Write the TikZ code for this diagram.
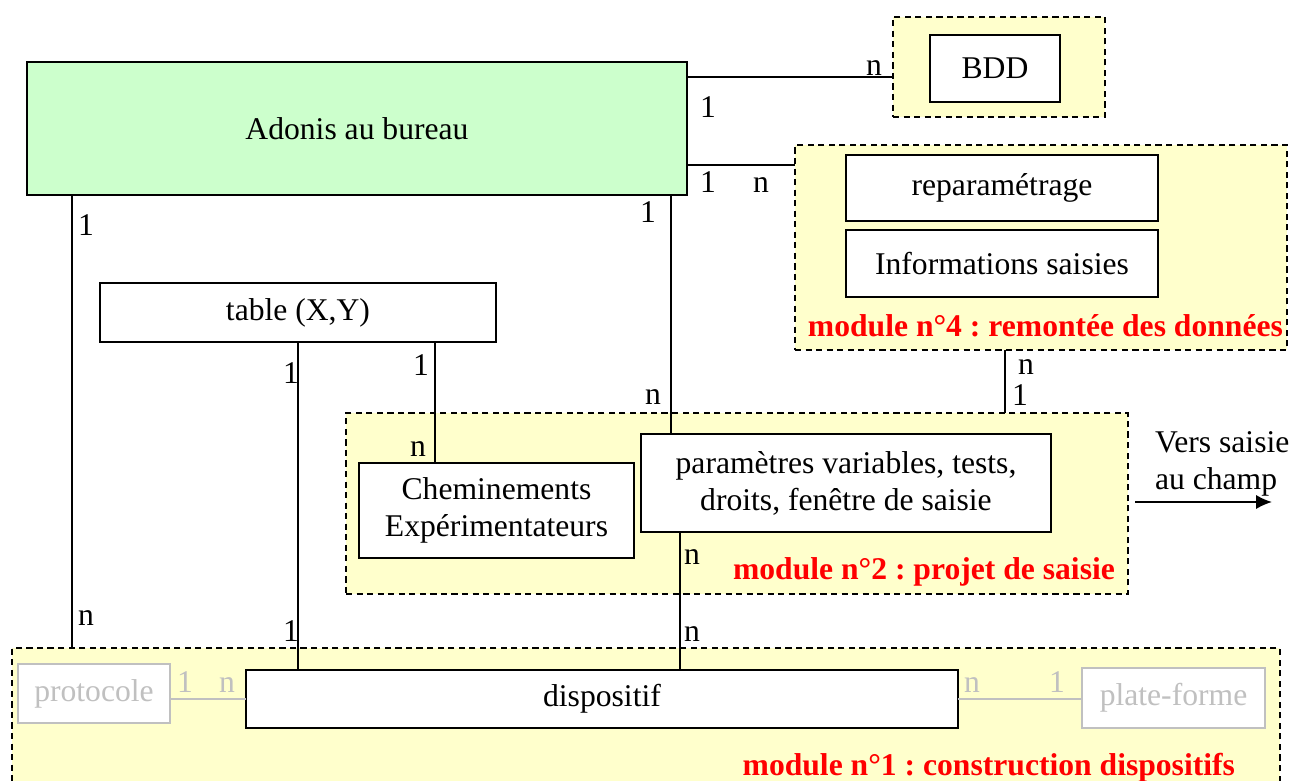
\documentclass[tikz,border=0pt]{standalone}
\usepackage{fontspec}
\setmainfont{Liberation Serif}
\usepackage{xcolor}
\definecolor{adonisgreen}{RGB}{204,255,204}
\definecolor{modyellow}{RGB}{255,255,204}
\definecolor{modred}{RGB}{255,0,0}
\definecolor{greyout}{RGB}{192,192,192}
\usetikzlibrary{arrows.meta,positioning}
\frenchspacing

\begin{document}
\begin{tikzpicture}[x=0.02cm, y=-0.02cm, line width=1pt,
  every node/.style={font=\fontsize{18}{21}\selectfont, inner sep=0pt, outer sep=0pt},
  box/.style={draw, fill=white, align=center},
  grp/.style={draw, dash pattern=on 3.5pt off 2.5pt, fill=modyellow},
  card/.style={anchor=base west},
  modlabel/.style={anchor=base east, text=modred, font=\fontsize{18}{21}\selectfont\bfseries}]
  \useasboundingbox (0,0) rectangle (1295,781);
  \clip (0,0) rectangle (1295,781);
  % modules
  \node[grp, minimum width=4.24cm, minimum height=2.0cm] (bddgrp) at (999,67) {};
  \node[grp, minimum width=9.84cm, minimum height=4.1cm] (mod4) at (1041,247.5) {};
  \node[grp, minimum width=15.64cm, minimum height=3.62cm] (mod2) at (737,503.5) {};
  \node[grp, minimum width=25.36cm, minimum height=3.04cm] (mod1) at (646,724) {};
  % boxes
  \node[box, fill=adonisgreen, minimum width=13.2cm, minimum height=2.66cm] (adonis) at (357,128.5) {Adonis au bureau};
  \node[box, minimum width=2.6cm, minimum height=1.34cm] (bdd) at (995,68.5) {BDD};
  \node[box, minimum width=6.24cm, minimum height=1.32cm] (reparam) at (1002,188) {reparamétrage};
  \node[box, minimum width=6.24cm, minimum height=1.34cm] (infos) at (1002,263.5) {Informations saisies};
  \node[box, minimum width=7.92cm, minimum height=1.18cm] (table) at (298,312.5) {table (X,Y)};
  \node[box, minimum width=5.5cm, minimum height=1.9cm] (chemin) at (496.5,510.5) {Cheminements\\Expérimentateurs};
  \node[box, minimum width=8.2cm, minimum height=1.96cm] (param) at (846,483) {paramètres variables, tests,\\droits, fenêtre de saisie};
  \node[box, minimum width=14.24cm, minimum height=1.16cm] (dispo) at (602,699) {dispositif};
  \node[box, draw=greyout, text=greyout, minimum width=3.04cm, minimum height=1.18cm] (proto) at (94,693.5) {protocole};
  \node[box, draw=greyout, text=greyout, minimum width=3.66cm, minimum height=1.2cm] (plate) at (1173.5,698) {plate-forme};
  % module titles
  \node[modlabel] (mod4title) at ([shift={(-4,-13)}]mod4.south east) {module n°4 : remontée des données};
  \node[modlabel] (mod2title) at ([shift={(-13,-14)}]mod2.south east) {module n°2 : projet de saisie};
  \node[modlabel] (mod1title) at (1235,775) {module n°1 : construction dispositifs};
  % links
  \draw (adonis.north east) ++(0,15) coordinate (a1) -- (a1 -| bddgrp.west);
  \draw (adonis.south east) ++(0,-30) coordinate (a2) -- (a2 -| mod4.west);
  \draw (param.north west) ++(30,0) coordinate (a3) -- (a3 |- adonis.south);
  \draw (adonis.south west) ++(45,0) coordinate (a4) -- (a4 |- mod1.north);
  \draw (table.south) -- (table.south |- dispo.north);
  \draw (chemin.north west) ++(76,0) coordinate (a5) -- (a5 |- table.south);
  \draw (mod4.south west) ++(210,0) coordinate (a6) -- (a6 |- mod2.north);
  \draw (param.south west) ++(39,0) coordinate (a7) -- (a7 |- dispo.north);
  \draw[greyout] (dispo.west) -- (dispo.west -| proto.east);
  \draw[greyout] (dispo.east) -- (dispo.east -| plate.west);
  % cardinalities
  \foreach \x/\y/\t [count=\i] in {700/117/1, 866/75/n, 700/192/1, 753/192/n, 640/222/1, 645/404/n,
      78/235/1, 78/625/n, 283/383/1, 283/641/1, 413/375/1, 410/456/n, 1018/374/n, 1012/405/1,
      684/564/n, 684/641/n}
    \node[card] (k\i) at (\x,\y) {\t};
  \foreach \x/\y/\t [count=\i] in {177/692/1, 219/692/n, 964/692/n, 1049/692/1}
    \node[card, text=greyout] (g\i) at (\x,\y) {\t};
  % towards field entry
  \node[anchor=north west, align=left] (vers) at (1155,432) {Vers saisie\\au champ};
  \coordinate (vs) at (1135,502);
  \coordinate (ve) at (1272,502);
  \draw[-{Latex[length=9pt,width=8pt]}] (vs) -- (ve);
\end{tikzpicture}
\end{document}
